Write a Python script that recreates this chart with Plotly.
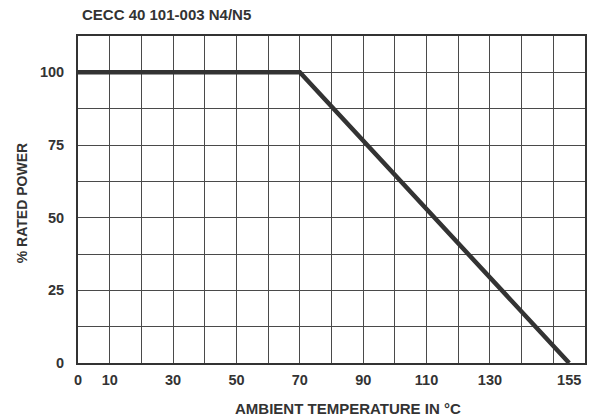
import plotly.graph_objects as go

temperature = [0, 70, 155]
rated_power = [100, 100, 0]

x_tick_vals = [0, 10, 30, 50, 70, 90, 110, 130, 155]
x_tick_text = ["0", "10", "30", "50", "70", "90", "110", "130", "155"]
y_tick_vals = [0, 25, 50, 75, 100]
y_tick_text = ["0", "25", "50", "75", "100"]

TXT = "#333333"
FONT = "Liberation Sans, Arial, Helvetica, sans-serif"

W, H = 593, 419
L, R, T, B = 78, 6, 36, 56
pw, ph = W - L - R, H - T - B

fig = go.Figure()
fig.add_trace(go.Scatter(
    x=temperature, y=rated_power, mode="lines",
    line=dict(color="#333333", width=4.5),
    hoverinfo="skip", showlegend=False,
))

fig.update_layout(
    width=W, height=H,
    margin=dict(l=L, r=R, t=T, b=B, pad=0),
    paper_bgcolor="white", plot_bgcolor="white",
    font=dict(family=FONT, color=TXT, size=13),
    showlegend=False,
)

fig.update_xaxes(
    range=[0, 160], tickvals=x_tick_vals, ticktext=x_tick_text,
    showgrid=False, zeroline=False,
    showline=True, mirror=True, linecolor="#333333", linewidth=2,
    ticks="", ticklabelstandoff=3,
    tickfont=dict(family=FONT, size=14.5, color=TXT, weight="bold"),
    minor=dict(tick0=0, dtick=10, showgrid=True, gridcolor="#4a4a4a", gridwidth=1.2),
)
fig.update_yaxes(
    range=[0, 112.5], tickvals=y_tick_vals, ticktext=y_tick_text,
    showgrid=True, gridcolor="#4a4a4a", gridwidth=1.2, zeroline=False,
    showline=True, mirror=True, linecolor="#333333", linewidth=2,
    ticks="", ticklabelstandoff=9,
    tickfont=dict(family=FONT, size=14.5, color=TXT, weight="bold"),
    minor=dict(tick0=0, dtick=12.5, showgrid=True, gridcolor="#4a4a4a", gridwidth=1.2),
)

def px_x(px):
    return (px - L) / pw

def px_y(py):
    return (H - B - py) / ph

fig.add_annotation(
    text="CECC 40 101-003 N4/N5", xref="paper", yref="paper",
    x=px_x(80), y=px_y(14), xanchor="left", yanchor="middle", showarrow=False,
    font=dict(family=FONT, size=15, color=TXT, weight="bold"),
)
fig.add_annotation(
    text="AMBIENT TEMPERATURE IN °C", xref="paper", yref="paper",
    x=px_x(349), y=px_y(408), xanchor="center", yanchor="middle", showarrow=False,
    font=dict(family=FONT, size=15, color=TXT, weight="bold"),
)
fig.add_annotation(
    text="% RATED POWER", xref="paper", yref="paper", textangle=-90,
    x=px_x(22), y=px_y(203), xanchor="center", yanchor="middle", showarrow=False,
    font=dict(family=FONT, size=14, color=TXT, weight="bold"),
)

fig.write_html(
    "out.html",
    config={"displayModeBar": False},
    post_script="document.body.style.margin='0';document.body.style.padding='0';",
)
